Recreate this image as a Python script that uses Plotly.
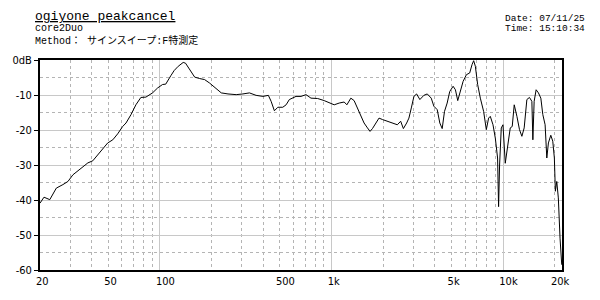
import math
import plotly.graph_objects as go

# Frequency response (Hz, dB)
freq_hz = [20, 21.1, 22.8, 24.9, 27.2, 29.1, 31.1, 34.0, 38.0, 40.6, 44.4, 49.6, 53.1, 56.7,
           60.6, 63.4, 67.8, 72.4, 77.4, 82.8, 90.5, 96.8, 103.5, 108, 115.6, 121, 127.7,
           136.5, 140.8, 149, 159.3, 170.4, 182, 194.7, 208, 227.6, 249, 278, 304, 332, 363,
           398, 428, 444, 464, 486, 519, 543, 567, 594, 620, 663, 709, 758, 829, 905, 968,
           1035, 1107, 1183, 1227, 1294, 1352, 1415, 1478, 1545, 1617, 1674, 1729, 1807,
           1888, 1976, 2112, 2258, 2414, 2524, 2618, 2736, 2820, 2912, 3016, 3126, 3266,
           3446, 3606, 3804, 3940, 4122, 4268, 4406, 4544, 4710, 4876, 5102, 5262, 5428,
           5626, 5834, 6098, 6372, 6578, 6720, 6876, 7090, 7350, 7682, 7964, 8214, 8402,
           8710, 8984, 9264, 9388, 9514, 9734, 9958, 10268, 10588, 10978, 11272, 11580,
           12004, 12428, 12832, 13234, 13720, 14204, 14670, 14868, 15128, 15538, 16024,
           16546, 16994, 17524, 17928, 18316, 18912, 19424, 19840, 20106, 20484, 20928,
           21410, 21904]
level_db = [-40.9, -39.2, -39.9, -36.6, -35.6, -34.7, -32.8, -31.3, -29.4, -28.8, -26.6, -23.7,
            -22.8, -21.1, -19.0, -18.0, -15.6, -12.8, -10.7, -10.6, -9.4, -8.0, -7.0, -6.9,
            -4.5, -3.0, -1.8, -0.7, -0.9, -2.8, -4.9, -5.3, -5.6, -6.6, -7.8, -9.4, -9.7,
            -9.9, -9.7, -9.4, -10.1, -10.4, -10.1, -11.8, -14.5, -13.5, -13.5, -12.8, -11.3,
            -10.9, -10.4, -10.4, -9.9, -10.9, -11.0, -11.6, -12.3, -12.8, -12.3, -12.0,
            -12.8, -10.9, -11.6, -13.7, -16.1, -18.0, -19.4, -20.4, -19.6, -18.0, -16.6,
            -17.0, -17.5, -18.0, -18.5, -17.5, -19.6, -18.0, -16.6, -13.7, -10.4, -9.7,
            -11.3, -10.1, -9.7, -10.9, -13.2, -14.2, -18.0, -19.6, -14.7, -12.3, -9.0, -7.5,
            -8.5, -11.6, -9.0, -6.1, -4.2, -3.7, -1.3, -0.2, -1.8, -7.0, -10.9, -14.7,
            -19.9, -16.6, -16.1, -18.5, -22.3, -28.0, -41.9, -30.0, -19.4, -18.5, -29.5,
            -24.7, -19.4, -19.0, -12.8, -16.1, -19.9, -21.8, -19.4, -11.3, -10.7, -11.8,
            -22.8, -11.8, -8.5, -9.4, -10.9, -15.6, -18.5, -28.0, -23.7, -21.5, -23.2,
            -28.0, -37.5, -34.7, -39.4, -50.9, -58.5]

x_tick_vals = [20, 50, 100, 500, 1000, 5000, 10000, 20000]
x_tick_text = ["20", "50", "100", "500", "1k", "5k", "10k", "20k"]
x_decades = [100, 1000, 10000]
y_tick_vals = [0, -10, -20, -30, -40, -50, -60]
y_tick_text = ["0dB", "-10", "-20", "-30", "-40", "-50", "-60"]

title_text = "ogiyone peakcancel"
sub1_text = "core2Duo"
sub2_text = "Method： サインスイープ:F特測定"
date_text = "Date: 07/11/25"
time_text = "Time: 15:10:34"

x_range = [math.log10(20), math.log10(21980)]
y_range = [-60, 0]

GRID_SOLID = "#c8c8c8"
GRID_DASH = "#b4b4b4"
TICK_FONT = dict(family="Liberation Sans Narrow, DejaVu Sans Condensed, Liberation Sans",
                 size=11, color="black")
MONO = "Liberation Mono, DejaVu Sans Mono, Noto Sans CJK JP"

fig = go.Figure()
fig.add_trace(go.Scatter(x=freq_hz, y=level_db, mode="lines",
                         line=dict(color="black", width=1), hoverinfo="skip"))
fig.add_trace(go.Scatter(x=[], y=[], xaxis="x2", mode="lines", showlegend=False))

fig.update_layout(
    width=600, height=300,
    margin=dict(l=38, r=38, t=60, b=30),
    paper_bgcolor="white", plot_bgcolor="white",
    showlegend=False,
    xaxis=dict(
        type="log", range=x_range,
        tickmode="array", tickvals=x_tick_vals, ticktext=x_tick_text,
        ticklabelposition="outside right", ticklabelshift=-5, ticks="",
        tickfont=TICK_FONT,
        showgrid=True, gridcolor=GRID_DASH, gridwidth=1, griddash="3px,3px",
        minor=dict(dtick="D1", showgrid=True, gridcolor=GRID_DASH, gridwidth=1,
                   griddash="3px,3px", ticks=""),
        showline=True, linecolor="black", linewidth=2, mirror=True,
        zeroline=False,
    ),
    xaxis2=dict(
        type="log", range=x_range, overlaying="x", anchor="y", side="bottom",
        tickmode="array", tickvals=x_decades, showticklabels=False, ticks="",
        showgrid=True, gridcolor=GRID_SOLID, gridwidth=1,
        showline=False, zeroline=False,
    ),
    yaxis=dict(
        range=y_range,
        tickmode="array", tickvals=y_tick_vals, ticktext=y_tick_text,
        ticks="outside", ticklen=4, tickcolor="black", tickwidth=1,
        tickfont=TICK_FONT,
        showgrid=True, gridcolor=GRID_SOLID, gridwidth=1,
        minor=dict(dtick=5, tick0=0, showgrid=True, gridcolor=GRID_DASH, gridwidth=1,
                   griddash="3px,3px", ticks=""),
        showline=True, linecolor="black", linewidth=2, mirror=True,
        zeroline=False,
    ),
)

def px_x(p):
    return (p - 38) / 524.0

def px_y(p):
    return (270 - p) / 210.0

fig.add_annotation(text=title_text, xref="paper", yref="paper",
                   x=px_x(31), y=px_y(7), xanchor="left", yanchor="top", showarrow=False,
                   font=dict(family=MONO, size=13, color="black", lineposition="under"))
fig.add_annotation(text=sub1_text, xref="paper", yref="paper",
                   x=px_x(31), y=px_y(21), xanchor="left", yanchor="top", showarrow=False,
                   font=dict(family=MONO, size=10, color="black"))
fig.add_annotation(text=sub2_text, xref="paper", yref="paper",
                   x=px_x(31), y=px_y(32), xanchor="left", yanchor="top", showarrow=False,
                   font=dict(family=MONO, size=10, color="black"))
fig.add_annotation(text=date_text, xref="paper", yref="paper",
                   x=px_x(587), y=px_y(11), xanchor="right", yanchor="top", showarrow=False,
                   font=dict(family=MONO, size=9.5, color="black"))
fig.add_annotation(text=time_text, xref="paper", yref="paper",
                   x=px_x(587), y=px_y(21), xanchor="right", yanchor="top", showarrow=False,
                   font=dict(family=MONO, size=9.5, color="black"))

fig.write_html("out.html")
